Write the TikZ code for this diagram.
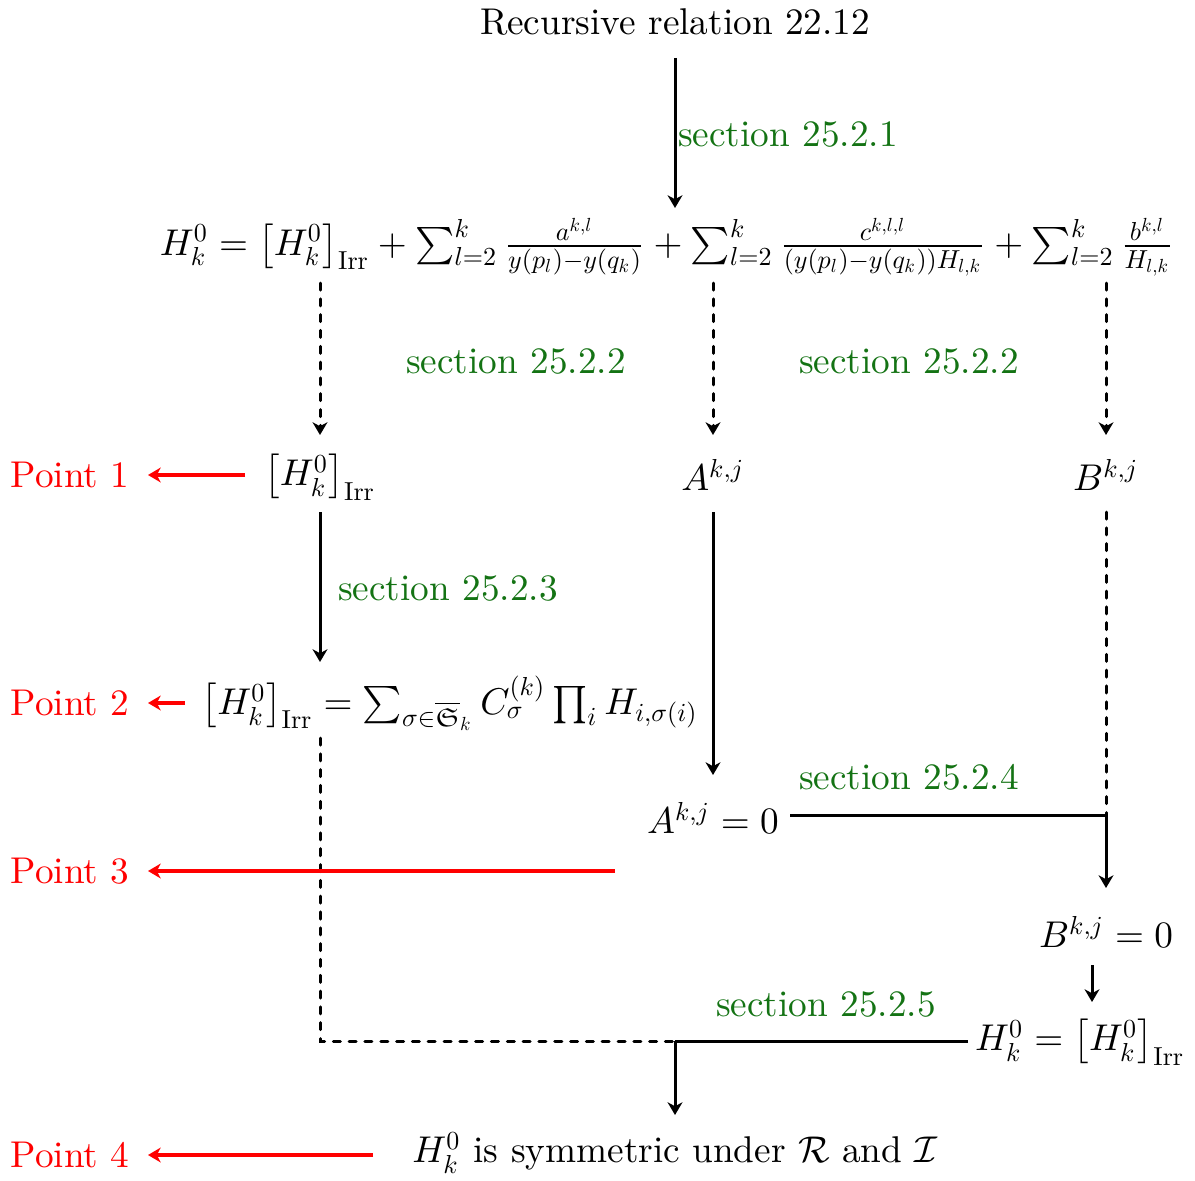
\RequirePackage{fix-cm}
\documentclass[tikz,border=0pt]{standalone}
\usepackage{amsmath,amssymb}
\usetikzlibrary{arrows.meta}
\DeclareFontShape{OML}{cmm}{m}{it}{<->cmmi10}{}
\DeclareFontShape{OT1}{cmr}{m}{n}{<->cmr10}{}
\DeclareFontShape{OMS}{cmsy}{m}{n}{<->cmsy10}{}
\DeclareMathSizes{10.6}{10.6}{7.4}{5.4}
\definecolor{secgreen}{RGB}{20,115,20}
\begin{document}
\begin{tikzpicture}[x=0.1mm,y=-0.1mm,
  font=\fontsize{10.6}{12.7}\selectfont,
  >={Stealth[length=3.6pt,width=4.2pt,inset=1.1pt]},
  every node/.style={inner sep=2pt},
  solidarr/.style={->,line width=0.85pt},
  dasharr/.style={->,line width=0.85pt,dash pattern=on 2pt off 2.5pt,line cap=round},
  dashline/.style={line width=0.85pt,dash pattern=on 2pt off 2.5pt,line cap=round},
  solidline/.style={line width=0.85pt},
  redarr/.style={->,red,line width=0.95pt},
  sec/.style={text=secgreen},
  pt/.style={text=red}]
\useasboundingbox (0,0) rectangle (1195,1180);

% nodes
\node (top) at (675,22) {Recursive relation 22.12};
\node (eq) at (667,247) {$H_k^0 = \bigl[H_k^0\bigr]_{\mathrm{Irr}} + \sum_{l=2}^{k} \frac{a^{k,l}}{y(p_l)-y(q_k)} + \sum_{l=2}^{k} \frac{c^{k,l,l}}{(y(p_l)-y(q_k))H_{l,k}} + \sum_{l=2}^{k} \frac{b^{k,l}}{H_{l,k}}$};
\node (irr) at (320,477) {$\bigl[H_k^0\bigr]_{\mathrm{Irr}}$};
\node (A) at (713,475) {$A^{k,j}$};
\node (B) at (1106,475) {$B^{k,j}$};
\node[pt] (p1) at (70,475) {Point 1};
\node (irreq) at (450,703) {$\bigl[H_k^0\bigr]_{\mathrm{Irr}} = \sum_{\sigma\in\overline{\mathfrak{S}}_k} C_\sigma^{(k)} \prod_i H_{i,\sigma(i)}$};
\node[pt] (p2) at (70,703) {Point 2};
\node (A0) at (713,818) {$A^{k,j}=0$};
\node[pt] (p3) at (70,871) {Point 3};
\node (B0) at (1106,932) {$B^{k,j}=0$};
\node (Hirr) at (1080,1042) {$H_k^0=\bigl[H_k^0\bigr]_{\mathrm{Irr}}$};
\node (sym) at (675,1153) {$H_k^0$ is symmetric under $\mathcal{R}$ and $\mathcal{I}$};
\node[pt] (p4) at (70,1155) {Point 4};

% section labels
\node[sec] (s1) at (788,135) {section 25.2.1};
\node[sec] (s2a) at (516,362) {section 25.2.2};
\node[sec] (s2b) at (909,362) {section 25.2.2};
\node[sec] (s3) at (448,588) {section 25.2.3};
\node[sec] (s4) at (909,777) {section 25.2.4};
\node[sec] (s5) at (826,1004) {section 25.2.5};

% connector end points
\coordinate (c1a) at (675,58);   \coordinate (c1b) at (675,208);
\coordinate (d1a) at (320,283);  \coordinate (d1b) at (320,435);
\coordinate (d2a) at (713,283);  \coordinate (d2b) at (713,435);
\coordinate (d3a) at (1106,283); \coordinate (d3b) at (1106,435);
\coordinate (e1a) at (320,512);  \coordinate (e1b) at (320,662);
\coordinate (e2a) at (713,512);  \coordinate (e2b) at (713,775);
\coordinate (e3a) at (1106,512); \coordinate (e3m) at (1106,815); \coordinate (e3b) at (1106,888);
\coordinate (f1a) at (320,738);  \coordinate (f1m) at (320,1041); \coordinate (jn) at (675,1041);
\coordinate (g1a) at (790,815);
\coordinate (h1a) at (1092,965); \coordinate (h1b) at (1092,1002);
\coordinate (k1a) at (968,1041); \coordinate (k1b) at (675,1115);
\coordinate (r1) at (245,475);
\coordinate (r2) at (185,703);
\coordinate (r3) at (615,871);
\coordinate (r4) at (373,1155);
\coordinate (rt1) at (148,475);
\coordinate (rt2) at (148,703);
\coordinate (rt3) at (148,871);
\coordinate (rt4) at (148,1155);

% connectors
\draw[solidarr] (c1a) -- (c1b);
\draw[dasharr] (d1a) -- (d1b);
\draw[dasharr] (d2a) -- (d2b);
\draw[dasharr] (d3a) -- (d3b);
\draw[solidarr] (e1a) -- (e1b);
\draw[solidarr] (e2a) -- (e2b);
\draw[dashline] (e3a) -- (e3m);
\draw[solidline] (g1a) -- (e3m);
\draw[solidarr] (e3m) -- (e3b);
\draw[dashline] (f1a) -- (f1m) -- (jn);
\draw[solidarr] (h1a) -- (h1b);
\draw[solidline] (k1a) -- (jn);
\draw[solidarr] (jn) -- (k1b);
\draw[redarr] (r1) -- (rt1);
\draw[redarr] (r2) -- (rt2);
\draw[redarr] (r3) -- (rt3);
\draw[redarr] (r4) -- (rt4);
\end{tikzpicture}
\end{document}
